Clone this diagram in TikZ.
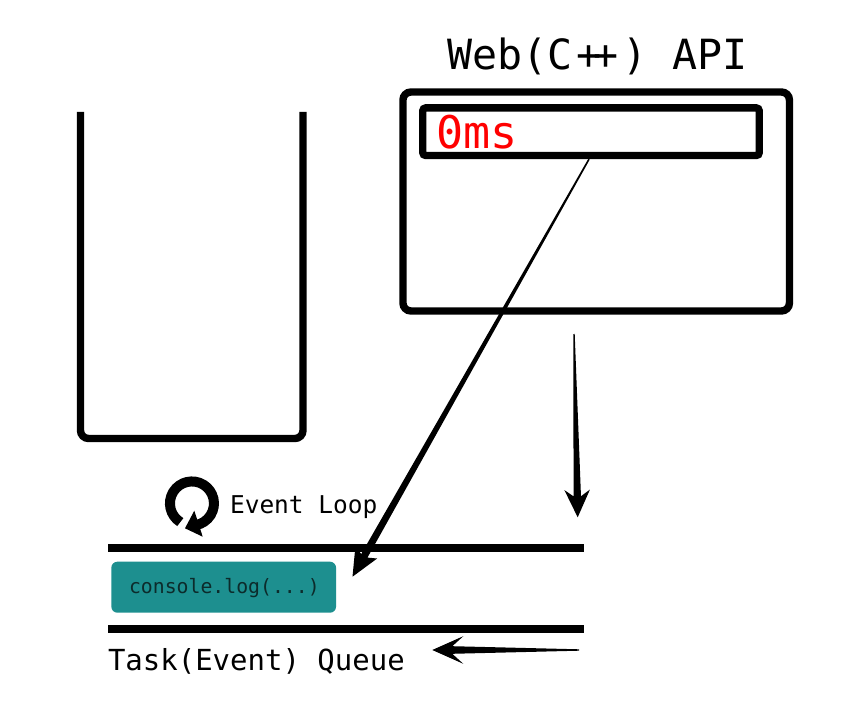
\documentclass[tikz,border=0pt]{standalone}
\usepackage{fontspec}
\setmonofont{DejaVu Sans Mono}
\usetikzlibrary{calc}
\definecolor{tealbox}{HTML}{1D8F8F}
\definecolor{tealtext}{HTML}{0C2B2B}
\tikzset{
  x=1pt,y=-1pt,
  heavy/.style={draw=black,line width=7.4pt},
  label text/.style={anchor=base west,inner sep=0pt,outer sep=0pt,font=\ttfamily},
  queue bar/.style={draw=black,line width=7.4pt},
}
% start, tip, half width at start, half width at head, notch back, barb back, barb half width
\newcommand{\taperarrow}[7]{%
  \coordinate (tapN) at ($(#2)!#5!(#1)$);
  \coordinate (tapB) at ($(#2)!#6!(#1)$);
  \fill[black] ($(#1)!#3!90:(#2)$) -- ($(tapN)!#4!90:(#2)$) -- ($(tapB)!#7!90:(#2)$) -- (#2)
    -- ($(tapB)!#7!-90:(#2)$) -- ($(tapN)!#4!-90:(#2)$) -- ($(#1)!#3!-90:(#2)$) -- cycle;
}
\begin{document}
\begin{tikzpicture}
\useasboundingbox (0,0) rectangle (863,709);
\fill[white] (0,0) rectangle (863,709);
% call stack cup
\draw[heavy,rounded corners=8pt] (80.5,112) -- (80.5,438.5) -- (303,438.5) -- (303,112);
% Web API
\node[label text,font=\ttfamily\fontsize{41.6}{41.6}\selectfont] (apititle) at (447.5,69.5) {Web(C\kern.1em+\kern-.2em+\kern.1em) API};
\node[heavy,rounded corners=8pt,minimum width=386.5pt,minimum height=219pt,inner sep=0pt] (apibox) at (596.2,201.5) {};
\node[heavy,rounded corners=3pt,minimum width=336.5pt,minimum height=47.6pt,inner sep=0pt] (timer) at (591,131.7) {};
\node[label text,text=red,font=\ttfamily\fontsize{45}{45}\selectfont] (timertext) at (436,148) {0ms};
% queue
\coordinate (bartopL) at (108,548);
\coordinate (bartopR) at (584,548);
\coordinate (barbotL) at (108,629);
\coordinate (barbotR) at (584,629);
\draw[queue bar] (bartopL) -- (bartopR);
\draw[queue bar] (barbotL) -- (barbotR);
\node[fill=tealbox,rounded corners=6pt,minimum width=224.7pt,minimum height=51pt,inner sep=0pt] (task) at (223.7,587.2) {};
\node[label text,text=tealtext,font=\ttfamily\fontsize{19.8}{19.8}\selectfont] (tasktext) at (129,593) {console.log(...)};
\node[label text,font=\ttfamily\fontsize{29}{29}\selectfont] (queuelabel) at (108,670) {Task(Event) Queue};
\node[label text,font=\ttfamily\fontsize{24.5}{24.5}\selectfont] (looplabel) at (230,513) {Event Loop};
% loop icon
\draw[black,line width=10pt] (180.3,522.1) arc[start angle=238,end angle=-80,radius=22pt];
\fill[black] (185,528.3) -- (194.3,510.7) -- (198,522) -- (202.7,536.7) -- cycle;
% arrows
\coordinate (diagstart) at ($(timer.south)+(-2,0)$);
\coordinate (diagtip) at (352.5,576.7);
\coordinate (downstart) at (574,334);
\coordinate (downtip) at (577.7,517.3);
\coordinate (leftstart) at (579,650);
\coordinate (lefttip) at (432.3,650);
\taperarrow{diagstart}{diagtip}{0.8pt}{3.6pt}{24pt}{28pt}{12.5pt}
\taperarrow{downstart}{downtip}{0.7pt}{3.7pt}{21pt}{27.5pt}{12.8pt}
\taperarrow{leftstart}{lefttip}{0.7pt}{3.8pt}{20pt}{31pt}{13.8pt}
\end{tikzpicture}
\end{document}
